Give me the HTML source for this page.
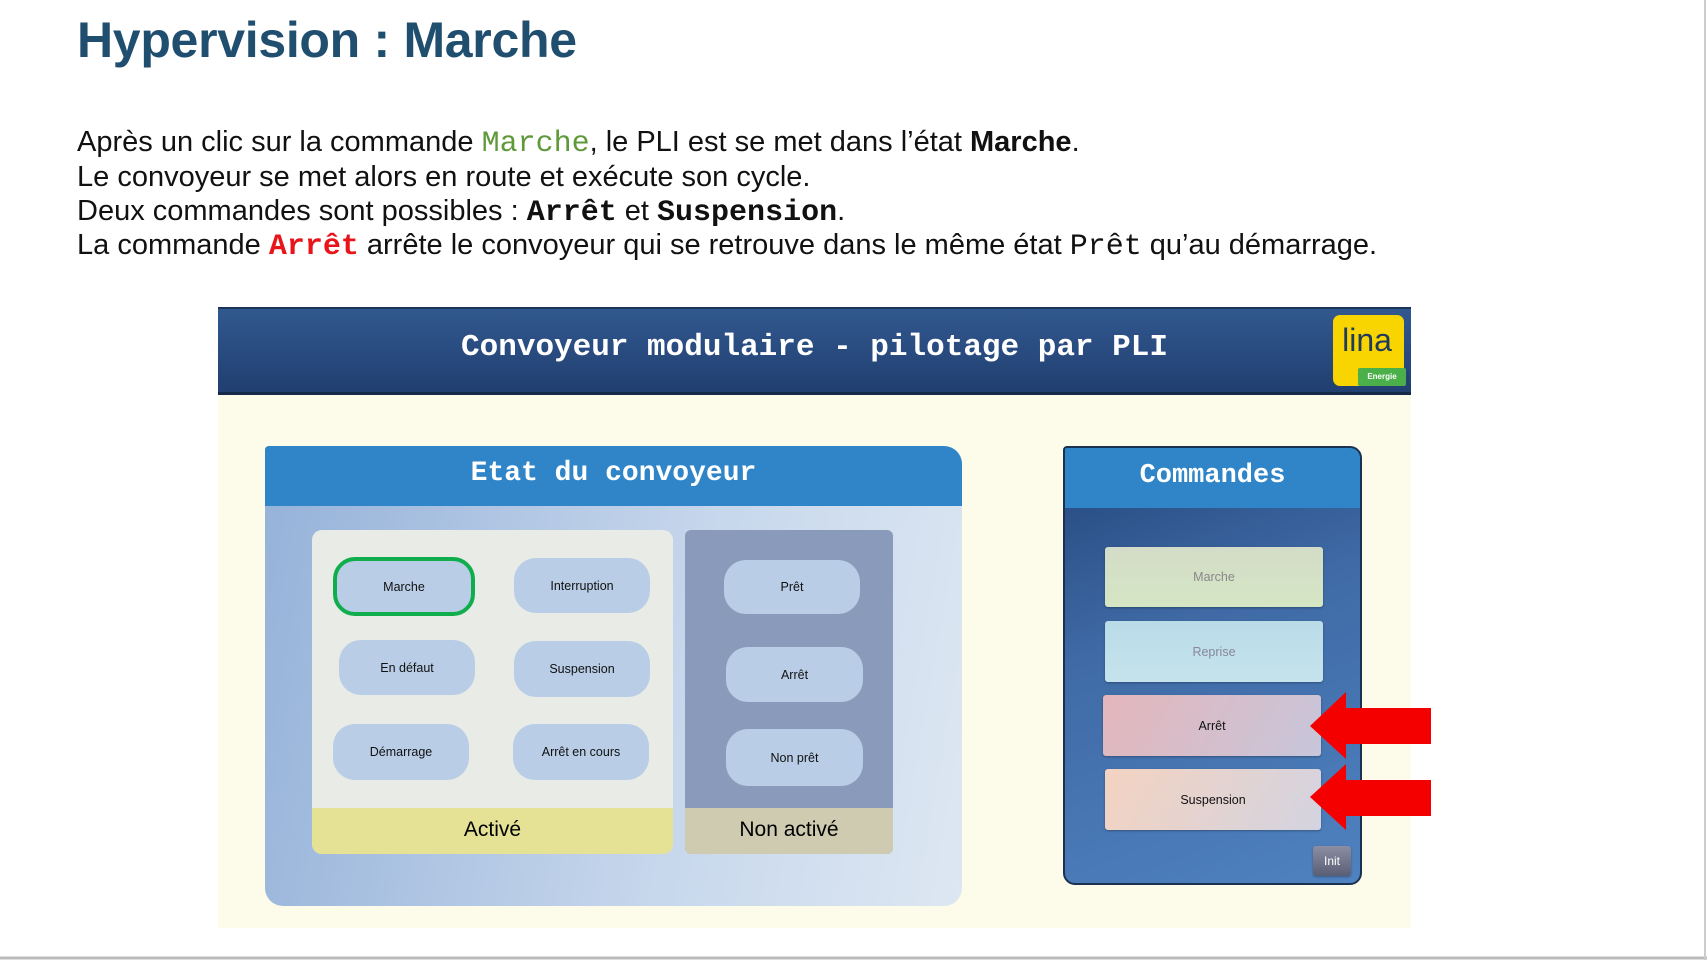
<!DOCTYPE html>
<html><head><meta charset="utf-8"><style>
*{margin:0;padding:0;box-sizing:border-box}
body{width:1707px;height:960px;background:#fff;position:relative;overflow:hidden;font-family:"Liberation Sans",sans-serif}
.a{position:absolute}
.t{font-family:"Liberation Sans",sans-serif;font-size:29px;color:#111;left:77px;white-space:nowrap;letter-spacing:0px}
.m{font-family:"Liberation Mono",monospace}
.pill{position:absolute;background:#b9cde7;border-radius:22px;font-size:12.5px;color:#111;display:flex;align-items:center;justify-content:center}
.btn{position:absolute;border-radius:3px;font-size:12.5px;display:flex;align-items:center;justify-content:center;box-shadow:0 1px 2px rgba(0,0,0,.3)}
</style></head><body>
<div class="a" style="left:77px;top:11px;font-size:50px;font-weight:bold;color:#1f4e6e;letter-spacing:-0.3px">Hypervision : Marche</div>
<div class="a t" style="top:126px">Après un clic sur la commande <span class="m" style="color:#5f9a3a;font-size:30px">Marche</span>, le PLI est se met dans l’état <b>Marche</b>.</div>
<div class="a t" style="top:161px">Le convoyeur se met alors en route et exécute son cycle.</div>
<div class="a t" style="top:195px">Deux commandes sont possibles : <b class="m" style="font-size:30px">Arrêt</b> et <b class="m" style="font-size:30px">Suspension</b>.</div>
<div class="a t" style="top:229px">La commande <b class="m" style="color:#e8141a;font-size:30px">Arrêt</b> arrête le convoyeur qui se retrouve dans le même état <span class="m" style="font-size:30px">Prêt</span> qu’au démarrage.</div>

<div class="a" style="left:218px;top:394px;width:1193px;height:534px;background:#fdfcea"></div>
<div class="a" style="left:218px;top:307px;width:1193px;height:88px;background:linear-gradient(#31588f,#213f70);border-bottom:3px solid #152a4a;border-top:2px solid #1a3358"></div>
<div class="a m" style="left:218px;top:330px;width:1193px;text-align:center;color:#fff;font-weight:bold;font-size:31px">Convoyeur modulaire - pilotage par PLI</div>
<div class="a" style="left:1333px;top:315px;width:71px;height:71px;background:#f8d500;border-radius:7px"></div>
<div class="a" style="left:1358px;top:368px;width:48px;height:18px;background:#4bb04a;border-radius:2px;color:#fff;font-size:8px;font-weight:bold;text-align:center;line-height:18px">Energie</div>
<div class="a" style="left:1333px;top:322px;width:68px;text-align:center;font-size:32px;color:#1e3a5c">lina</div>

<div class="a" style="left:265px;top:446px;width:697px;height:460px;border-radius:4px 18px 18px 18px;background:linear-gradient(100deg,#95b2d9,#c7d7ec 60%,#dde7f2);overflow:hidden">
<div style="height:60px;background:#2f85c7;color:#fff;font-family:'Liberation Mono',monospace;font-weight:bold;font-size:28px;text-align:center;line-height:56px">Etat du convoyeur</div>
</div>
<div class="a" style="left:312px;top:530px;width:361px;height:324px;background:#e9ece6;border-radius:10px;overflow:hidden"><div style="position:absolute;bottom:0;width:100%;height:46px;background:#e5e295;text-align:center;line-height:44px;font-size:21px">Activé</div></div>
<div class="a" style="left:685px;top:530px;width:208px;height:324px;background:#8a9abb;border-radius:6px;overflow:hidden"><div style="position:absolute;bottom:0;width:100%;height:46px;background:#cecbb1;text-align:center;line-height:44px;font-size:21px">Non activé</div></div>
<div class="pill" style="left:333px;top:557px;width:142px;height:59px;border:4px solid #10ad4c">Marche</div>
<div class="pill" style="left:514px;top:558px;width:136px;height:55px">Interruption</div>
<div class="pill" style="left:339px;top:640px;width:136px;height:55px">En défaut</div>
<div class="pill" style="left:514px;top:641px;width:136px;height:56px">Suspension</div>
<div class="pill" style="left:333px;top:724px;width:136px;height:56px">Démarrage</div>
<div class="pill" style="left:513px;top:724px;width:136px;height:56px">Arrêt en cours</div>
<div class="pill" style="left:724px;top:560px;width:136px;height:54px">Prêt</div>
<div class="pill" style="left:726px;top:647px;width:137px;height:55px">Arrêt</div>
<div class="pill" style="left:726px;top:729px;width:137px;height:57px">Non prêt</div>

<div class="a" style="left:1063px;top:446px;width:299px;height:439px;border-radius:4px 12px 12px 12px;background:linear-gradient(160deg,#24467c,#3f6aa5 40%,#4f82c0);border:2px solid #1c3050;overflow:hidden">
<div style="height:60px;background:#2f85c7;color:#fff;font-family:'Liberation Mono',monospace;font-weight:bold;font-size:27px;text-align:center;line-height:56px">Commandes</div>
</div>
<div class="btn" style="left:1105px;top:547px;width:218px;height:60px;background:linear-gradient(#d3dcc8,#d5e6c4);color:#888">Marche</div>
<div class="btn" style="left:1105px;top:621px;width:218px;height:61px;background:linear-gradient(#b9dbe8,#c5e3ec);color:#889">Reprise</div>
<div class="btn" style="left:1103px;top:695px;width:218px;height:61px;background:linear-gradient(120deg,#e4b6bb,#c7c6db);color:#111">Arrêt</div>
<div class="btn" style="left:1105px;top:769px;width:216px;height:61px;background:linear-gradient(120deg,#f4d3c1,#d3d3e0);color:#111">Suspension</div>
<div class="btn" style="left:1313px;top:846px;width:38px;height:30px;background:linear-gradient(#8c8fa3,#5a5e75);color:#fff;font-size:12px">Init</div>
<svg class="a" style="left:0;top:0" width="1707" height="960">
<polygon points="1310,726 1346,692 1346,708 1431,708 1431,744 1346,744 1346,759" fill="#f50000"/>
<polygon points="1310,797 1346,764 1346,780 1431,780 1431,816 1346,816 1346,830" fill="#f50000"/>
<line x1="0" y1="958" x2="1707" y2="958" stroke="#bbb" stroke-width="3"/>
<line x1="1705" y1="0" x2="1705" y2="960" stroke="#ccc" stroke-width="2"/>
</svg>
</body></html>
